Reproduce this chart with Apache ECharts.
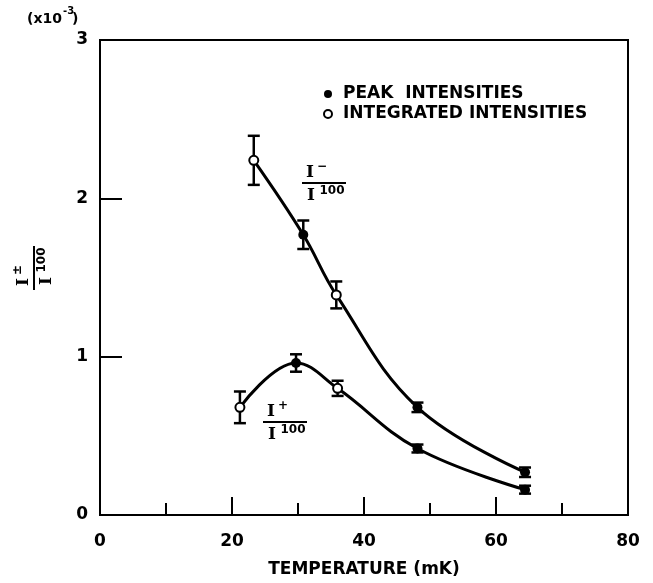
<!DOCTYPE html>
<html>
<head>
<meta charset="utf-8">
<script src="https://cdn.jsdelivr.net/npm/echarts@6/dist/echarts.min.js"></script>
<style>
html,body{margin:0;padding:0;background:#fff;}
#main{width:653px;height:583px;}
</style>
</head>
<body>
<div id="main"></div>
<script>
// I- / I100 branch (upper curve)
var minusTemp  = [23.3, 30.8, 35.8, 48.1, 64.4];
var minusRatio = [2.24, 1.77, 1.39, 0.68, 0.27];
var minusErr   = [0.155, 0.09, 0.085, 0.03, 0.03];
var minusKind  = ['int', 'peak', 'int', 'peak', 'peak'];

// I+ / I100 branch (lower curve)
var plusTemp  = [21.2, 29.7, 36.0, 48.1, 64.4];
var plusRatio = [0.68, 0.96, 0.80, 0.42, 0.16];
var plusErr   = [0.10, 0.055, 0.048, 0.025, 0.025];
var plusKind  = ['int', 'peak', 'int', 'peak', 'peak'];

var peakName = 'PEAK  INTENSITIES';
var intName = 'INTEGRATED INTENSITIES';

var font = '"DejaVu Sans", sans-serif';
var serif = '"DejaVu Serif", serif';

function pairs(t, r){
	return t.map(function(v, i){ return [v, r[i]]; });
}

function pick(kind){
	var out = [];
	minusTemp.forEach(function(v, i){ if(minusKind[i] === kind) out.push([v, minusRatio[i]]); });
	plusTemp.forEach(function(v, i){ if(plusKind[i] === kind) out.push([v, plusRatio[i]]); });
	return out;
}

var errData = [];
minusTemp.forEach(function(v, i){ errData.push([v, minusRatio[i], minusErr[i]]); });
plusTemp.forEach(function(v, i){ errData.push([v, plusRatio[i], plusErr[i]]); });

function txt(str, x, y, size, fam, weight){
	return {
		type: 'text', x: x, y: y,
		style: {
			text: str, fill: '#000',
			fontSize: size, fontFamily: fam || font, fontWeight: weight || 'bold',
			align: 'center', verticalAlign: 'middle',
			textAlign: 'center', textVerticalAlign: 'middle'
		}
	};
}

// fraction label  I(sign) / I(100)
function fraction(sign, cx, cy, rot){
	return {
		type: 'group', x: cx, y: cy, rotation: rot || 0,
		children: [
			txt('I', -14, -10, 17, serif),
			txt(sign, -2, -16, 12),
			{ type: 'line', shape: {x1: -22, y1: 0, x2: 22, y2: 0}, style: {stroke: '#000', lineWidth: 2} },
			txt('I', -13, 13, 17, serif),
			txt('100', 8, 8, 12)
		]
	};
}

var chart = echarts.init(document.getElementById('main'));

chart.setOption({
	backgroundColor: '#fff',
	animation: false,
	grid: {
		left: 100, right: 25, top: 40, bottom: 64,
		show: true, borderColor: '#000', borderWidth: 2
	},
	legend: {
		orient: 'vertical',
		left: 323, top: 85,
		padding: 0,
		itemWidth: 20, itemHeight: 8, itemGap: 2,
		data: [peakName, intName],
		textStyle: { color: '#000', fontSize: 17, fontWeight: 'bold', fontFamily: font, lineHeight: 18 }
	},
	xAxis: {
		type: 'value', min: 0, max: 80, interval: 20,
		name: 'TEMPERATURE (mK)', nameLocation: 'middle', nameGap: 46,
		nameTextStyle: { color: '#000', fontSize: 17, fontWeight: 'bold', fontFamily: font },
		axisLine: { lineStyle: { color: '#000', width: 2 } },
		axisTick: { inside: true, length: 18, lineStyle: { color: '#000', width: 2 } },
		minorTick: { show: true, splitNumber: 2, length: 12, lineStyle: { color: '#000', width: 2 } },
		splitLine: { show: false },
		axisLabel: { color: '#000', fontSize: 17, fontWeight: 'bold', fontFamily: font, margin: 18 }
	},
	yAxis: {
		type: 'value', min: 0, max: 3, interval: 1,
		axisLine: { lineStyle: { color: '#000', width: 2 } },
		axisTick: { inside: true, length: 22, lineStyle: { color: '#000', width: 2 } },
		splitLine: { show: false },
		axisLabel: { color: '#000', fontSize: 17, fontWeight: 'bold', fontFamily: font, margin: 12 }
	},
	graphic: [
		{ type: 'text', x: 27, y: 19, style: { text: '(x10', fill: '#000', fontSize: 14, fontWeight: 'bold', fontFamily: font, verticalAlign: 'middle', textVerticalAlign: 'middle' } },
		{ type: 'text', x: 63, y: 11, style: { text: '-3', fill: '#000', fontSize: 10, fontWeight: 'bold', fontFamily: font, verticalAlign: 'middle', textVerticalAlign: 'middle' } },
		{ type: 'text', x: 72, y: 19, style: { text: ')', fill: '#000', fontSize: 14, fontWeight: 'bold', fontFamily: font, verticalAlign: 'middle', textVerticalAlign: 'middle' } },
		fraction('\u2212', 324, 183),
		fraction('+', 285, 422),
		fraction('\u00b1', 34, 268, Math.PI / 2)
	],
	series: [
		{
			type: 'line', name: 'minus', data: pairs(minusTemp, minusRatio),
			smooth: 0.4, showSymbol: false, silent: true,
			lineStyle: { color: '#000', width: 3 }, z: 2
		},
		{
			type: 'line', name: 'plus', data: pairs(plusTemp, plusRatio),
			smooth: 0.4, showSymbol: false, silent: true,
			lineStyle: { color: '#000', width: 3 }, z: 2
		},
		{
			type: 'custom', name: 'err', data: errData, z: 3,
			encode: { x: 0, y: 1 },
			renderItem: function(params, api){
				var x = api.value(0), y = api.value(1), e = api.value(2);
				var lo = api.coord([x, y - e]);
				var hi = api.coord([x, y + e]);
				var w = 6;
				var st = { stroke: '#000', lineWidth: 2.5 };
				return {
					type: 'group',
					children: [
						{ type: 'line', shape: { x1: lo[0], y1: lo[1], x2: hi[0], y2: hi[1] }, style: st },
						{ type: 'line', shape: { x1: lo[0] - w, y1: lo[1], x2: lo[0] + w, y2: lo[1] }, style: st },
						{ type: 'line', shape: { x1: hi[0] - w, y1: hi[1], x2: hi[0] + w, y2: hi[1] }, style: st }
					]
				};
			}
		},
		{
			type: 'scatter', name: peakName, data: pick('peak'),
			symbol: 'circle', symbolSize: 10, z: 4,
			itemStyle: { color: '#000', opacity: 1 }
		},
		{
			type: 'scatter', name: intName, data: pick('int'),
			symbol: 'circle', symbolSize: 9, z: 4,
			itemStyle: { color: '#fff', borderColor: '#000', borderWidth: 2, opacity: 1 }
		}
	]
});
</script>
</body>
</html>
